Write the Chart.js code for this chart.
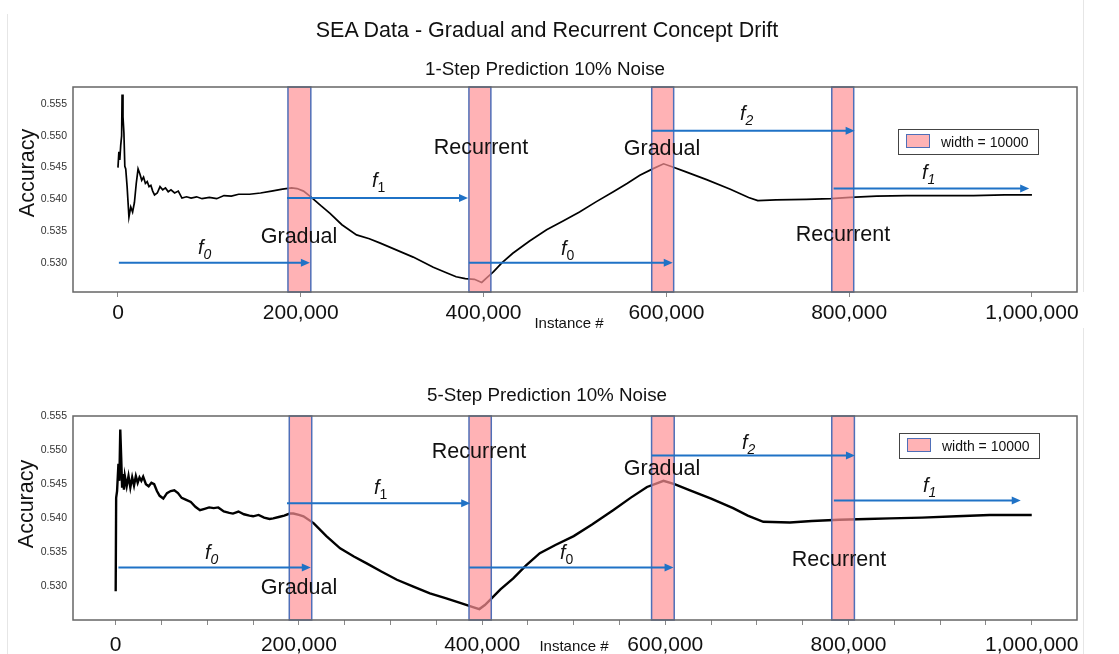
<!DOCTYPE html>
<html><head><meta charset="utf-8">
<script src="https://cdn.jsdelivr.net/npm/chart.js@4.4.1/dist/chart.umd.min.js"></script>
<style>
html,body{margin:0;padding:0;background:#fff}
body{width:1119px;height:654px;overflow:hidden;position:relative;font-family:"Liberation Sans",Arial,sans-serif;color:#111}
.box{position:absolute;left:0;width:1119px}
.t{position:absolute;white-space:nowrap;line-height:1;transform:translate(-50%,-50%)}
.big{font-size:21.5px}
.f{position:absolute;white-space:nowrap;line-height:1;transform:translateY(-50%);font-size:20px;font-style:italic}
.f sub{font-size:14px;vertical-align:-5px;line-height:0}
.f sub.u{font-style:normal}
.leg{position:absolute;width:139px;height:24px;border:1.5px solid #444;background:#fff;font-size:14px}
.leg .sw{position:absolute;left:7px;top:4px;width:22px;height:12px;background:#ffb3b5;border:1.5px solid #4f6fb8}
.leg .lt{position:absolute;left:42px;top:50%;transform:translateY(-50%);line-height:1}
.yl{position:absolute;white-space:nowrap;line-height:1;font-size:21.5px;transform:translate(-50%,-50%) rotate(-90deg)}
.vl{position:absolute;background:#e6e6e6;width:1px}
</style>
</head><body>

<div class="vl" style="left:7px;top:14px;height:640px"></div>
<div class="vl" style="left:1083px;top:0;height:292px"></div>
<div class="vl" style="left:1083px;top:328px;height:326px"></div>

<div class="box" style="top:0;height:335px"><canvas id="c1"></canvas></div>
<div class="box" style="top:335px;height:319px"><canvas id="c2"></canvas></div>

<div class="t" style="left:547px;top:31px;font-size:21.5px">SEA Data - Gradual and Recurrent Concept Drift</div>
<div class="t" style="left:545px;top:69px;font-size:18.8px">1-Step Prediction 10% Noise</div>
<div class="t" style="left:547px;top:395px;font-size:18.8px">5-Step Prediction 10% Noise</div>

<div class="yl" style="left:28px;top:173px">Accuracy</div>
<div class="yl" style="left:27px;top:504px">Accuracy</div>

<div class="t" style="left:569px;top:322px;font-size:15px">Instance #</div>
<div class="t" style="left:574px;top:645px;font-size:15px">Instance #</div>

<!-- top panel annotations -->
<div class="t big" style="left:299px;top:237px">Gradual</div>
<div class="t big" style="left:481px;top:148px">Recurrent</div>
<div class="t big" style="left:662px;top:149px">Gradual</div>
<div class="t big" style="left:843px;top:235px">Recurrent</div>
<div class="f" style="left:198px;top:247px">f<sub>0</sub></div>
<div class="f" style="left:372px;top:180px">f<sub class="u">1</sub></div>
<div class="f" style="left:561px;top:248px">f<sub class="u">0</sub></div>
<div class="f" style="left:740px;top:113px">f<sub>2</sub></div>
<div class="f" style="left:922px;top:172px">f<sub>1</sub></div>
<div class="leg" style="left:898px;top:129px"><div class="sw"></div><div class="lt">width = 10000</div></div>

<!-- bottom panel annotations -->
<div class="t big" style="left:479px;top:452px">Recurrent</div>
<div class="t big" style="left:662px;top:469px">Gradual</div>
<div class="t big" style="left:299px;top:588px">Gradual</div>
<div class="t big" style="left:839px;top:560px">Recurrent</div>
<div class="f" style="left:205px;top:552px">f<sub>0</sub></div>
<div class="f" style="left:374px;top:487px">f<sub class="u">1</sub></div>
<div class="f" style="left:560px;top:552px">f<sub class="u">0</sub></div>
<div class="f" style="left:742px;top:442px">f<sub>2</sub></div>
<div class="f" style="left:923px;top:485px">f<sub>1</sub></div>
<div class="leg" style="left:899px;top:433px"><div class="sw"></div><div class="lt">width = 10000</div></div>

<script>
// ---------- DATA ----------
const instTop = [0,1000,2000,3000,4000,4500,5500,6500,7500,8500,10000,12000,14000,16000,18000,20000,22000,24000,26000,28000,30000,32000,34000,36000,38000,40000,43000,46000,49000,52000,55000,58000,62000,66000,70000,75000,80000,86000,92000,100000,108000,116000,124000,132000,144000,156000,168000,180000,190000,196000,203000,211000,222000,232000,245000,261000,275000,287000,305000,323000,345000,360000,370000,380000,390000,398000,404000,411000,420000,432000,450000,469000,487000,505000,523000,542000,557000,571000,585000,597000,607000,620000,644000,670000,690000,700000,720000,753000,780000,801000,830000,863000,900000,936000,970000,1000000];
const accTop = [0.5450,0.5475,0.5462,0.5485,0.5500,0.5565,0.5530,0.5505,0.5452,0.5448,0.5420,0.5372,0.5388,0.5380,0.5395,0.5425,0.5448,0.5440,0.5430,0.5435,0.5425,0.5428,0.5420,0.5422,0.5413,0.5407,0.5410,0.5420,0.5415,0.5418,0.5412,0.5415,0.5410,0.5413,0.5402,0.5404,0.5402,0.5404,0.5401,0.5403,0.5401,0.5406,0.5405,0.5408,0.5408,0.5410,0.5413,0.5416,0.5418,0.5417,0.5413,0.5404,0.5390,0.5378,0.5360,0.5344,0.5338,0.5331,0.5320,0.5309,0.5293,0.5284,0.5278,0.5275,0.5274,0.5269,0.5277,0.5286,0.5300,0.5315,0.5334,0.5352,0.5366,0.5380,0.5396,0.5412,0.5425,0.5438,0.5448,0.5456,0.5451,0.5444,0.5431,0.5416,0.5403,0.5398,0.5399,0.5400,0.5401,0.5403,0.5405,0.5406,0.5406,0.5406,0.5407,0.5407];

const instBot = [0,500,1500,3000,4000,5000,6000,7000,8000,9000,10000,12000,14000,16000,18000,20000,22000,24000,26000,28000,30000,33000,36000,39000,42000,45000,48000,52000,56000,60000,64000,68000,72000,77000,82000,87000,92000,97000,102000,107000,112000,118000,124000,128000,134000,140000,146000,150000,156000,162000,168000,172000,178000,184000,190000,194000,200000,205000,216000,230000,245000,260000,274000,290000,307000,325000,343000,360000,376000,390000,397000,403000,409000,420000,434000,448000,463000,480000,500000,520000,543000,562000,580000,590000,598000,610000,627000,650000,674000,690000,707000,736000,760000,790000,820000,845000,880000,918000,954000,980000,1000000];
const accBot = [0.5293,0.5430,0.5440,0.5480,0.5455,0.5530,0.5490,0.5445,0.5465,0.5442,0.5462,0.5447,0.5462,0.5445,0.5460,0.5448,0.5462,0.5452,0.5460,0.5455,0.5461,0.5450,0.5447,0.5452,0.5450,0.5440,0.5433,0.5429,0.5437,0.5440,0.5441,0.5437,0.5430,0.5427,0.5424,0.5417,0.5412,0.5414,0.5416,0.5415,0.5416,0.5410,0.5408,0.5407,0.5410,0.5406,0.5404,0.5403,0.5405,0.5401,0.5399,0.5400,0.5402,0.5404,0.5407,0.5407,0.5405,0.5403,0.5393,0.5374,0.5356,0.5344,0.5334,0.5322,0.5310,0.5300,0.5290,0.5283,0.5276,0.5270,0.5267,0.5273,0.5281,0.5296,0.5312,0.5331,0.5349,0.5361,0.5374,0.5391,0.5412,0.5430,0.5446,0.5451,0.5455,0.5450,0.5441,0.5429,0.5415,0.5404,0.5395,0.5394,0.5396,0.5398,0.5399,0.5400,0.5401,0.5403,0.5405,0.5405,0.5405];

// drift windows (instance #)
const bandStartTop = [186000,384000,584000,781000];
const bandEndTop   = [211000,408000,608000,805000];
const bandStartBot = [189500,385700,585000,781700];
const bandEndBot   = [214000,410000,609700,806400];

// concept arrows: start instance, end instance, accuracy level
const arrowStartTop = [1000,185000,384000,584000,783000];
const arrowEndTop   = [210000,383000,607000,806000,997000];
const arrowLevelTop = [0.5300,0.5402,0.5300,0.5508,0.5417];
const arrowStartBot = [3000,187000,386000,585000,784000];
const arrowEndBot   = [213000,387000,609000,807000,988000];
const arrowLevelBot = [0.5328,0.5422,0.5328,0.5492,0.5426];

// ticks
const xLabelTicks = [0,200000,400000,600000,800000,1000000];
const xMinorTicksBot = [0,50000,100000,150000,200000,250000,300000,350000,400000,450000,500000,550000,600000,650000,700000,750000,800000,850000,900000,950000,1000000];
const yTicks = [0.530,0.535,0.540,0.545,0.550,0.555];

// ---------- CHARTS ----------
function decoPlugin(bs, be, as, ae, al){
  return {
    id:'deco',
    afterDatasetsDraw(chart){
      const {ctx, chartArea:a, scales:{x,y}} = chart;
      ctx.save();
      for(let i=0;i<bs.length;i++){
        const x0=x.getPixelForValue(bs[i]), x1=x.getPixelForValue(be[i]);
        ctx.fillStyle='rgba(255,146,150,0.7)';
        ctx.fillRect(x0,a.top,x1-x0,a.bottom-a.top);
        ctx.strokeStyle='#4f6fb8'; ctx.lineWidth=1.5;
        ctx.strokeRect(x0,a.top,x1-x0,a.bottom-a.top);
      }
      ctx.strokeStyle='#1f72c6'; ctx.fillStyle='#1f72c6'; ctx.lineWidth=2;
      for(let i=0;i<as.length;i++){
        const x0=x.getPixelForValue(as[i]), x1=x.getPixelForValue(ae[i]), yy=y.getPixelForValue(al[i]);
        ctx.beginPath(); ctx.moveTo(x0,yy); ctx.lineTo(x1-6,yy); ctx.stroke();
        ctx.beginPath(); ctx.moveTo(x1,yy); ctx.lineTo(x1-9,yy-4); ctx.lineTo(x1-9,yy+4); ctx.closePath(); ctx.fill();
      }
      ctx.strokeStyle='#666'; ctx.lineWidth=1.5;
      ctx.strokeRect(a.left,a.top,a.right-a.left,a.bottom-a.top);
      ctx.restore();
    }
  };
}

function makeChart(id, xs, ys, o){
  const fmt = v => v.toLocaleString('en-US');
  new Chart(document.getElementById(id), {
    type:'line',
    data:{datasets:[{data:xs.map((v,i)=>({x:v,y:ys[i]})), borderColor:'#000', borderWidth:o.lw, pointRadius:0, tension:0, fill:false}]},
    options:{
      responsive:true, maintainAspectRatio:false, animation:false,
      layout:{padding:{top:o.padTop,right:42,left:0,bottom:0}},
      plugins:{legend:{display:false}, tooltip:{enabled:false}},
      scales:{
        x:{type:'linear', min:o.xmin, max:o.xmax,
          afterBuildTicks:s=>{s.ticks=o.xticks.map(v=>({value:v}));},
          afterFit:s=>{s.height=o.xh;},
          border:{display:false},
          grid:{display:true, drawOnChartArea:false, drawTicks:true, tickLength:5, color:'#888', lineWidth:1},
          ticks:{autoSkip:false, maxRotation:0, padding:o.xpad, color:'#111',
            font:{family:'"Liberation Sans", Arial, sans-serif', size:21},
            callback:v=>xLabelTicks.includes(v)?fmt(v):''}
        },
        y:{type:'linear', min:o.ymin, max:o.ymax,
          afterBuildTicks:s=>{s.ticks=yTicks.map(v=>({value:v}));},
          afterFit:s=>{s.width=73;},
          border:{display:false},
          grid:{display:false, drawTicks:false},
          ticks:{padding:6, color:'#333', font:{family:'"Liberation Sans", Arial, sans-serif', size:10.5},
            callback:v=>v.toFixed(3)}
        }
      }
    },
    plugins:[decoPlugin(o.bs,o.be,o.as,o.ae,o.al)]
  });
}

makeChart('c1', instTop, accTop, {lw:1.7, padTop:87, xh:43, xpad:4, xmin:-49200, xmax:1049300, ymin:0.5254, ymax:0.5577,
  xticks:xLabelTicks, bs:bandStartTop, be:bandEndTop, as:arrowStartTop, ae:arrowEndTop, al:arrowLevelTop});
makeChart('c2', instBot, accBot, {lw:2.4, padTop:81, xh:34, xpad:8, xmin:-46600, xmax:1049400, ymin:0.5251, ymax:0.5550,
  xticks:xMinorTicksBot, bs:bandStartBot, be:bandEndBot, as:arrowStartBot, ae:arrowEndBot, al:arrowLevelBot});
</script>
</body></html>
